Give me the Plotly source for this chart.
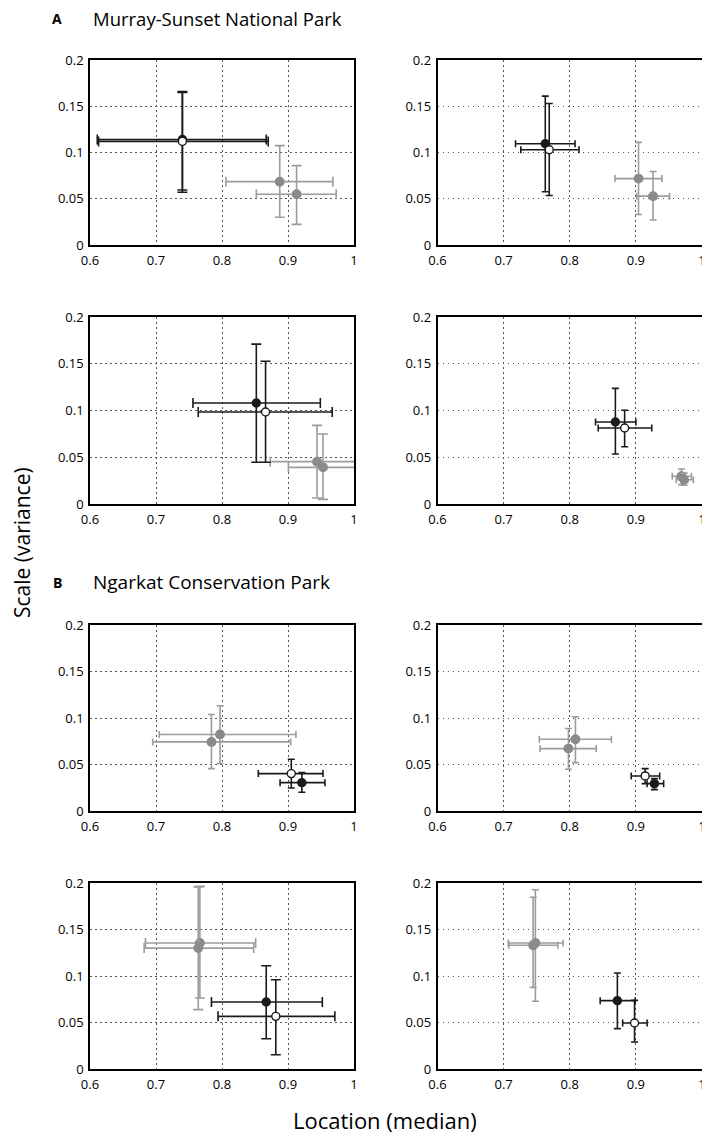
import plotly.graph_objects as go
from plotly.subplots import make_subplots

# panel order: A top-left, A top-right, A bottom-left, A bottom-right,
#              B top-left, B top-right, B bottom-left, B bottom-right
black_x = [0.740, 0.763, 0.852, 0.869, 0.921, 0.928, 0.867, 0.872]
black_y = [0.114, 0.1095, 0.108, 0.0877, 0.0305, 0.0294, 0.072, 0.0735]
black_xlo = [0.611, 0.718, 0.756, 0.839, 0.888, 0.917, 0.784, 0.846]
black_xhi = [0.867, 0.808, 0.949, 0.900, 0.956, 0.942, 0.952, 0.899]
black_ylo = [0.0595, 0.0575, 0.0446, 0.0535, 0.0201, 0.023, 0.0326, 0.0434]
black_yhi = [0.166, 0.161, 0.171, 0.1237, 0.0413, 0.0348, 0.111, 0.1032]

white_x = [0.740, 0.769, 0.866, 0.883, 0.905, 0.914, 0.8815, 0.898]
white_y = [0.112, 0.103, 0.0984, 0.0813, 0.0402, 0.0377, 0.0566, 0.0495]
white_xlo = [0.613, 0.726, 0.764, 0.843, 0.855, 0.893, 0.794, 0.880]
white_xhi = [0.870, 0.814, 0.967, 0.924, 0.953, 0.936, 0.971, 0.917]
white_ylo = [0.057, 0.0535, 0.0446, 0.0613, 0.0248, 0.0294, 0.0154, 0.029]
white_yhi = [0.165, 0.153, 0.1526, 0.1002, 0.0557, 0.0456, 0.096, 0.0738]

gray1_x = [0.8875, 0.904, 0.944, 0.969, 0.784, 0.798, 0.7665, 0.748]
gray1_y = [0.0685, 0.0718, 0.0453, 0.0296, 0.0743, 0.0671, 0.1355, 0.1355]
gray1_xlo = [0.806, 0.8685, 0.873, 0.955, 0.695, 0.755, 0.684, 0.707]
gray1_xhi = [0.968, 0.9395, 1.015, 0.984, 0.904, 0.840, 0.851, 0.790]
gray1_ylo = [0.030, 0.033, 0.0064, 0.0207, 0.0456, 0.0449, 0.0763, 0.0728]
gray1_yhi = [0.1074, 0.111, 0.0841, 0.0374, 0.1038, 0.0887, 0.1964, 0.1928]

gray2_x = [0.913, 0.926, 0.953, 0.973, 0.797, 0.8086, 0.764, 0.7446]
gray2_y = [0.0548, 0.0528, 0.0392, 0.026, 0.0822, 0.0772, 0.130, 0.133]
gray2_xlo = [0.852, 0.901, 0.9006, 0.961, 0.705, 0.754, 0.682, 0.708]
gray2_xhi = [0.973, 0.951, 1.006, 0.987, 0.912, 0.863, 0.848, 0.782]
gray2_ylo = [0.0223, 0.027, 0.005, 0.020, 0.051, 0.052, 0.0638, 0.0878]
gray2_yhi = [0.0858, 0.0794, 0.0749, 0.033, 0.1131, 0.1013, 0.1957, 0.1846]

x_ticks = [0.6, 0.7, 0.8, 0.9, 1.0]
x_ticktext = ["0.6", "0.7", "0.8", "0.9", "1"]
y_ticks = [0, 0.05, 0.1, 0.15, 0.2]
y_ticktext = ["0", "0.05", "0.1", "0.15", "0.2"]

FONT = "Open Sans"
W, H = 710, 1145
OFF = 8  # the page body adds an 8px margin, so place everything 8px up/left


def px_x(p):
    return (p - OFF) / W


def px_y(p):
    return 1 - (p - OFF) / H


fig = make_subplots(rows=4, cols=2)

# pixel boxes of the panels (as seen on screen)
col_px = [(90, 354), (437.5, 702)]
row_px = [(60, 245), (317, 504), (625, 811), (883, 1069)]


def add_point(r, c, x, y, xlo, xhi, ylo, yhi, fill, line, barcol, cap, size=8):
    fig.add_trace(go.Scatter(
        x=[x], y=[y], mode="markers",
        marker=dict(size=size, color=fill, line=dict(color=line, width=1.4)),
        error_x=dict(type="data", symmetric=False, array=[xhi - x], arrayminus=[x - xlo],
                     color=barcol, thickness=1.6, width=cap),
        error_y=dict(type="data", symmetric=False, array=[yhi - y], arrayminus=[y - ylo],
                     color=barcol, thickness=1.6, width=cap),
        showlegend=False, hoverinfo="skip"), row=r, col=c)


for i in range(8):
    r = i // 2 + 1
    c = i % 2 + 1
    cap = 5 if i in (0, 2, 6) else 3.5
    add_point(r, c, gray1_x[i], gray1_y[i], gray1_xlo[i], gray1_xhi[i], gray1_ylo[i], gray1_yhi[i],
              "#8a8a8a", "#8a8a8a", "#9c9c9c", cap, 8.5)
    add_point(r, c, gray2_x[i], gray2_y[i], gray2_xlo[i], gray2_xhi[i], gray2_ylo[i], gray2_yhi[i],
              "#8a8a8a", "#8a8a8a", "#9c9c9c", cap, 8.5)
    add_point(r, c, black_x[i], black_y[i], black_xlo[i], black_xhi[i], black_ylo[i], black_yhi[i],
              "#1a1a1a", "#1a1a1a", "#1a1a1a", cap)
    add_point(r, c, white_x[i], white_y[i], white_xlo[i], white_xhi[i], white_ylo[i], white_yhi[i],
              "white", "#1a1a1a", "#1a1a1a", cap)

for r in range(1, 5):
    for c in range(1, 3):
        x0, x1 = col_px[c - 1]
        y0, y1 = row_px[r - 1]
        fig.update_xaxes(domain=[px_x(x0), px_x(x1)], range=[0.6, 1.0], automargin=False,
                         tickvals=x_ticks, ticktext=x_ticktext, ticklabelstandoff=3,
                         showgrid=True, gridcolor="#555", griddash="1.5px,3.5px", gridwidth=1.2,
                         showline=True, mirror=True, linecolor="black", linewidth=1.5,
                         zeroline=False, ticks="", tickfont=dict(size=13, color="black"),
                         row=r, col=c)
        fig.update_yaxes(domain=[px_y(y1), px_y(y0)], range=[0, 0.2], automargin=False,
                         tickvals=y_ticks, ticktext=y_ticktext, ticklabelstandoff=2,
                         showgrid=True, gridcolor="#555", griddash="1.5px,3.5px", gridwidth=1.2,
                         showline=True, mirror=True, linecolor="black", linewidth=1.5,
                         zeroline=False, ticks="", tickfont=dict(size=13, color="black"),
                         row=r, col=c)

annos = [
    dict(text="<b>A</b>", x=57, y=18, size=14, xanchor="center"),
    dict(text="Murray-Sunset National Park", x=91, y=19, size=18.5, xanchor="left"),
    dict(text="<b>B</b>", x=57, y=582, size=14, xanchor="center"),
    dict(text="Ngarkat Conservation Park", x=91, y=582, size=19, xanchor="left"),
    dict(text="Location (median)", x=385, y=1120, size=22, xanchor="center"),
]
for a in annos:
    fig.add_annotation(text=a["text"], x=px_x(a["x"]), y=px_y(a["y"]), xref="paper", yref="paper",
                       xanchor=a["xanchor"], yanchor="middle", showarrow=False,
                       font=dict(family=FONT, size=a["size"], color="black"))
fig.add_annotation(text="Scale (variance)", x=px_x(22), y=px_y(543), xref="paper", yref="paper",
                   textangle=-90, showarrow=False, xanchor="center", yanchor="middle",
                   font=dict(family=FONT, size=21, color="black"))

fig.update_layout(width=W, height=H, margin=dict(l=0, r=0, t=0, b=0, autoexpand=False),
                  plot_bgcolor="white", paper_bgcolor="white",
                  font=dict(family=FONT, color="black"))

fig.write_html("out.html")
